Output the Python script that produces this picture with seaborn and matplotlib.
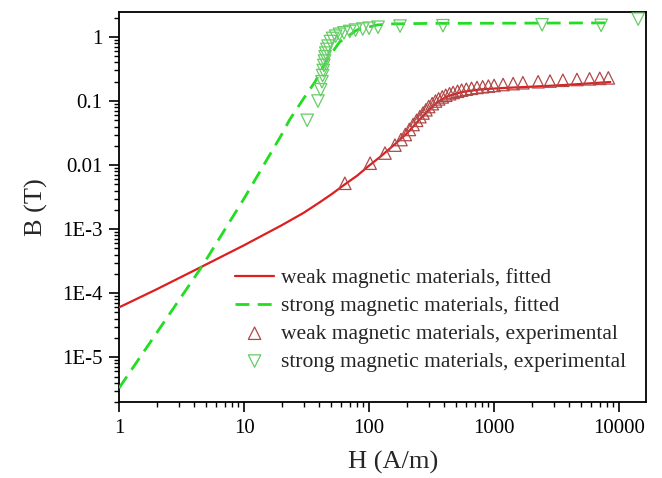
import matplotlib
matplotlib.use("Agg")
import matplotlib.pyplot as plt
import matplotlib.ticker as mticker
import numpy as np
import pandas as pd
import seaborn as sns

# Fitted B-H curves (H in A/m, B in T)
weak_fit_H = [1, 2, 4.6, 10, 20, 30, 40, 50, 64, 80, 100, 123, 160, 200, 250,
              300, 350, 420, 550, 775, 1200, 1950, 3500, 8500]
weak_fit_B = [6.0e-5, 1.15e-4, 2.6e-4, 5.6e-4, 1.15e-3, 1.8e-3, 2.6e-3, 3.5e-3,
              5.0e-3, 6.8e-3, 9.8e-3, 0.0135, 0.021, 0.031, 0.050, 0.072, 0.095,
              0.118, 0.138, 0.152, 0.160, 0.167, 0.177, 0.198]

strong_fit_H = [1, 2, 4.6, 10, 20, 23, 30, 37, 46, 58, 80, 116, 147, 300,
                1000, 3000, 8000]
strong_fit_B = [3.3e-6, 2.4e-5, 2.6e-4, 3.0e-3, 0.030, 0.05, 0.11, 0.2, 0.44,
                0.83, 1.29, 1.54, 1.60, 1.63, 1.64, 1.65, 1.66]

# Measured points
weak_exp_H = [64, 102, 134, 161, 180, 195, 210, 225, 240, 255, 270, 285, 300,
              320, 340, 360, 385, 410, 440, 470, 510, 550, 600, 660, 730, 810,
              900, 1000, 1180, 1420, 1700, 2250, 2800, 3550, 4600, 5800, 7000, 8200]
weak_exp_B = [0.0052, 0.0107, 0.0154, 0.0205, 0.025, 0.030, 0.036, 0.043, 0.050,
              0.057, 0.065, 0.073, 0.082, 0.091, 0.100, 0.108, 0.116, 0.123,
              0.130, 0.136, 0.142, 0.148, 0.153, 0.158, 0.163, 0.167, 0.171,
              0.175, 0.181, 0.187, 0.193, 0.200, 0.205, 0.211, 0.217, 0.222,
              0.226, 0.230]

strong_exp_H = [32, 39, 41, 42, 42.5, 43, 43.5, 44, 44.5, 45, 46, 47, 49, 51, 54,
                58, 63, 70, 78, 89, 100, 118, 177, 390, 2420, 7180, 14200]
strong_exp_B = [0.05, 0.10, 0.15, 0.20, 0.25, 0.30, 0.36, 0.42, 0.49, 0.56, 0.64,
                0.72, 0.85, 0.95, 1.03, 1.10, 1.16, 1.22, 1.28, 1.33, 1.37, 1.42,
                1.48, 1.50, 1.55, 1.52, 1.90]

y_ticks = [1, 0.1, 0.01, 1e-3, 1e-4, 1e-5]
y_tick_labels = ["1", "0.1", "0.01", "1E-3", "1E-4", "1E-5"]
x_ticks = [1, 10, 100, 1000, 10000]
x_tick_labels = ["1", "10", "100", "1000", "10000"]

sns.set_style("ticks")
plt.rcParams["font.family"] = ["Liberation Serif", "DejaVu Serif"]

weak_fit = pd.DataFrame({"H": weak_fit_H, "B": weak_fit_B})
strong_fit = pd.DataFrame({"H": strong_fit_H, "B": strong_fit_B})
weak_exp = pd.DataFrame({"H": weak_exp_H, "B": weak_exp_B})
strong_exp = pd.DataFrame({"H": strong_exp_H, "B": strong_exp_B})

fig = plt.figure(figsize=(6.62, 4.78), dpi=100)
ax = fig.add_axes([0.1798, 0.159, 0.7960, 0.816])
ax.set_xscale("log")
ax.set_yscale("log")

red = "#dd1f1f"
green = "#22dd22"

sns.lineplot(data=weak_fit, x="H", y="B", ax=ax, color=red, linewidth=1.6,
             label="weak magnetic materials, fitted", zorder=3)
sns.lineplot(data=strong_fit, x="H", y="B", ax=ax, color=green, linewidth=2.0,
             linestyle=(0, (5, 3)), label="strong magnetic materials, fitted", zorder=3)
sns.scatterplot(data=weak_exp, x="H", y="B", ax=ax, marker="^", s=80,
                facecolor="none", edgecolor="#b04848", linewidth=0.9,
                label="weak magnetic materials, experimental", zorder=4)
sns.scatterplot(data=strong_exp, x="H", y="B", ax=ax, marker="v", s=80,
                facecolor="none", edgecolor="#66cc66", linewidth=0.9,
                label="strong magnetic materials, experimental", zorder=4)

ax.set_xlim(1, 16400)
ax.set_ylim(2.0e-6, 2.46)

ax.xaxis.set_major_locator(mticker.FixedLocator(x_ticks))
ax.xaxis.set_major_formatter(mticker.FixedFormatter(x_tick_labels))
ax.yaxis.set_major_locator(mticker.FixedLocator(y_ticks))
ax.yaxis.set_major_formatter(mticker.FixedFormatter(y_tick_labels))
ax.xaxis.set_minor_locator(mticker.LogLocator(base=10, subs=np.arange(2, 10), numticks=20))
ax.yaxis.set_minor_locator(mticker.LogLocator(base=10, subs=np.arange(2, 10), numticks=20))
ax.xaxis.set_minor_formatter(mticker.NullFormatter())
ax.yaxis.set_minor_formatter(mticker.NullFormatter())

ax.tick_params(which="major", direction="out", length=7, width=1.2,
               labelsize=15, colors="black", pad=5)
ax.tick_params(which="minor", direction="out", length=3.5, width=1.0, colors="black")
ax.tick_params(top=False, right=False, which="both")

for side in ["left", "bottom", "top", "right"]:
    ax.spines[side].set_visible(True)
    ax.spines[side].set_linewidth(1.3)
    ax.spines[side].set_color("black")

ax.set_xlabel("H (A/m)", fontsize=19)
ax.set_ylabel("B (T)", fontsize=19)
ax.xaxis.set_label_coords(0.52, -0.125)
ax.yaxis.set_label_coords(-0.135, 0.5)

leg = ax.legend(loc="lower right", bbox_to_anchor=(1.0, 0.028), frameon=False,
                fontsize=15.5, handlelength=1.8, handletextpad=0.35,
                labelspacing=0.36, borderaxespad=0.5, borderpad=0.4)

fig.savefig("out.png", dpi=100)
